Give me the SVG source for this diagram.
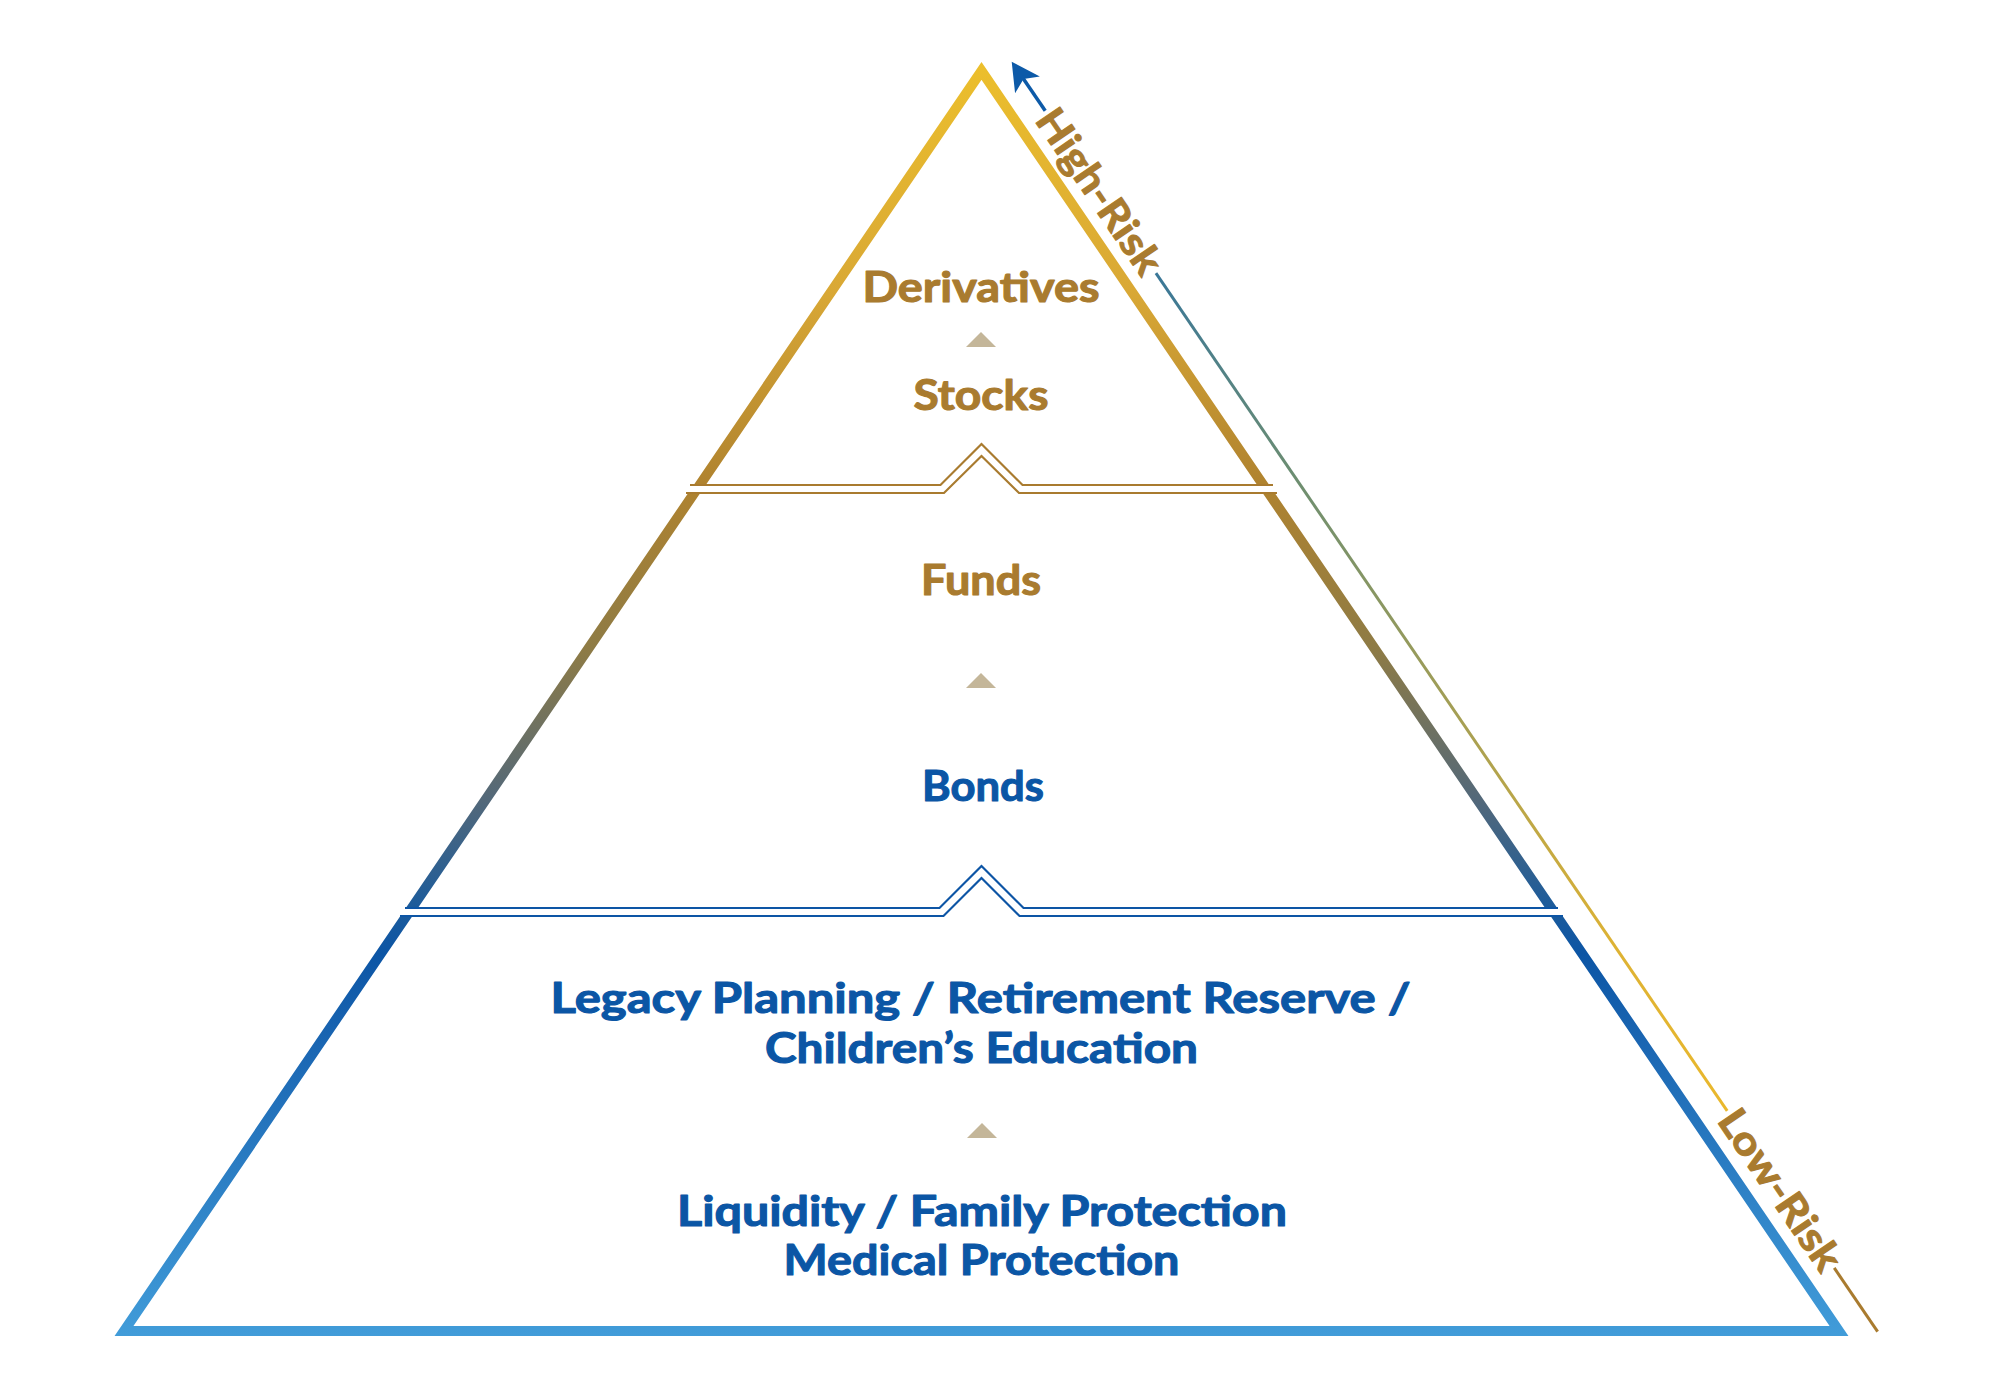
<svg xmlns="http://www.w3.org/2000/svg" width="2000" height="1400" viewBox="0 0 2000 1400">
<defs>
<linearGradient id="gPyr" gradientUnits="userSpaceOnUse" x1="0" y1="62" x2="0" y2="1336">
<stop offset="0" stop-color="#ECBF2C"/>
<stop offset="0.18" stop-color="#D9A835"/>
<stop offset="0.33" stop-color="#B0832F"/>
<stop offset="0.46" stop-color="#8E7B45"/>
<stop offset="0.58" stop-color="#52687A"/>
<stop offset="0.66" stop-color="#1E5C9A"/>
<stop offset="0.70" stop-color="#0C55A5"/>
<stop offset="0.78" stop-color="#1C68B4"/>
<stop offset="1" stop-color="#419CD9"/>
</linearGradient>
<linearGradient id="gRisk" gradientUnits="userSpaceOnUse" x1="256" y1="0" x2="1270" y2="0">
<stop offset="0" stop-color="#3A7798"/>
<stop offset="0.25" stop-color="#6E8E70"/>
<stop offset="0.55" stop-color="#A9A052"/>
<stop offset="0.8" stop-color="#DDB234"/>
<stop offset="1" stop-color="#EAB82C"/>
</linearGradient>
</defs>
<style>
.lbl{font-family:Lato,"Open Sans","Liberation Sans",sans-serif;font-weight:700;font-size:42px;text-anchor:middle;stroke-width:1.1px;stroke-linejoin:round}
.gold{fill:#A97B2F;stroke:#A97B2F}
.blue{fill:#0B56A5;stroke:#0B56A5}
.risk{font-family:Lato,"Open Sans","Liberation Sans",sans-serif;font-weight:700;font-size:40px;text-anchor:middle;fill:#A97B2F;stroke:#A97B2F;stroke-width:1px;stroke-linejoin:round}
.step{fill:#C4B699}
.div1{fill:none;stroke:#A97B2F;stroke-width:2.2}
.div2{fill:none;stroke:#0D55A5;stroke-width:2.2}
</style>
<rect width="2000" height="1400" fill="#ffffff"/>

<g id="pyramid-outline">
<polygon points="981.5,70.9 1839,1331 124,1331" fill="none" stroke="url(#gPyr)" stroke-width="10" stroke-linejoin="miter"/>
<rect x="660" y="486" width="630" height="6" fill="#ffffff"/>
<rect x="380" y="909" width="1200" height="6" fill="#ffffff"/>
<path class="div1" d="M690 485 H940.5 L981.5 444 L1022.5 485 H1273"/>
<path class="div1" d="M686 493 H944 L981.5 456 L1019 493 H1277"/>
<path class="div2" d="M405 908 H939.5 L981.5 866 L1023.5 908 H1558"/>
<path class="div2" d="M400 916 H943.5 L981.5 878 L1019.5 916 H1563"/>
</g>

<g id="tier-top">
<text class="lbl gold" x="981" y="302" textLength="237" lengthAdjust="spacingAndGlyphs">Derivatives</text>
<text class="lbl gold" x="981" y="410" textLength="135" lengthAdjust="spacingAndGlyphs">Stocks</text>
</g>

<g id="tier-middle">
<text class="lbl gold" x="981" y="595" textLength="120" lengthAdjust="spacingAndGlyphs">Funds</text>
<text class="lbl blue" x="983" y="801" textLength="122" lengthAdjust="spacingAndGlyphs">Bonds</text>
</g>

<g id="tier-bottom">
<text class="lbl blue" x="980.5" y="1013" textLength="860" lengthAdjust="spacingAndGlyphs">Legacy Planning / Retirement Reserve /</text>
<text class="lbl blue" x="981.5" y="1063" textLength="433" lengthAdjust="spacingAndGlyphs">Children&#8217;s Education</text>
<text class="lbl blue" x="982" y="1226" textLength="610" lengthAdjust="spacingAndGlyphs">Liquidity / Family Protection</text>
<text class="lbl blue" x="981.5" y="1275" textLength="396" lengthAdjust="spacingAndGlyphs">Medical Protection</text>
</g>

<g id="connectors">
<polygon class="step" points="966,347 996,347 981,332"/>
<polygon class="step" points="966,688 996,688 981,673"/>
<polygon class="step" points="967,1138 997,1138 982,1123"/>
</g>

<g id="risk-scale" transform="translate(1011.7,61.7) rotate(55.71)">
<path d="M0 0 L28 -15 L21 0 L28 15 Z" fill="#0D5AA8"/>
<line x1="18" y1="0" x2="59.5" y2="0" stroke="#0D5AA8" stroke-width="3.5"/>
<text class="risk" x="156.5" y="14.5" textLength="191" lengthAdjust="spacingAndGlyphs">High-Risk</text>
<line x1="256" y1="0" x2="1270" y2="0" stroke="url(#gRisk)" stroke-width="3"/>
<text class="risk" x="1365" y="14.5" textLength="186" lengthAdjust="spacingAndGlyphs">Low-Risk</text>
<line x1="1460" y1="0" x2="1537" y2="0" stroke="#A97B2F" stroke-width="3"/>
</g>
</svg>
